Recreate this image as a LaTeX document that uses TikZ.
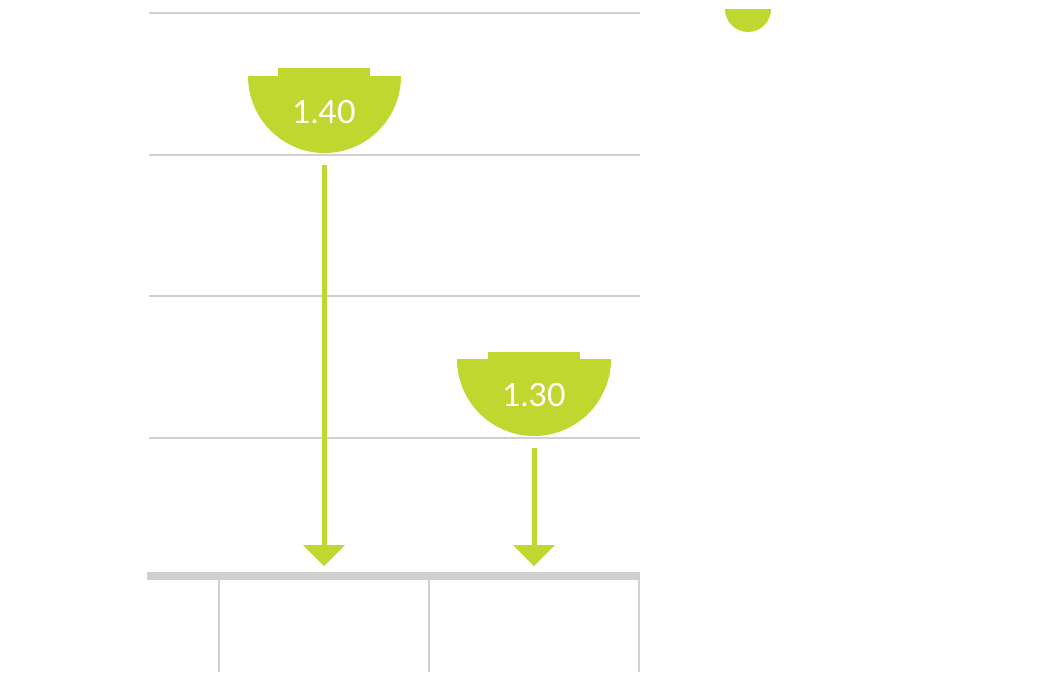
\documentclass[tikz,border=0pt]{standalone}
\usepackage{fontspec}
\setmainfont{Lato}
\definecolor{lime}{HTML}{C0D72F}
\definecolor{gridg}{HTML}{D0D0D0}
\begin{document}
\begin{tikzpicture}[x=1pt,y=-1pt,
  gline/.style={gridg,line width=2pt},
  bowl/.style={fill=lime,draw=none},
  shaft/.style={lime,line width=5pt},
  head/.style={fill=lime,draw=none},
  val/.style={text=white,font=\fontsize{32}{32}\selectfont,inner sep=0pt}]
\useasboundingbox (0,0) rectangle (1057,672);
\foreach \y in {13,155,296,438} \draw[gline] (149,\y) -- (640,\y);
\draw[gridg,line width=8pt] (147,576) -- (640,576);
\foreach \x in {219,429,639} \draw[gline] (\x,580) -- (\x,672);
% bowl 1
\fill[bowl] (248,76) arc[start angle=180,end angle=360,x radius=76.5,y radius=-77] -- cycle;
\fill[bowl] (278,68) rectangle (370,77);
\node[val] (v1) at (324,112) {1.40};
% bowl 2
\fill[bowl] (457,359) arc[start angle=180,end angle=360,x radius=77,y radius=-77] -- cycle;
\fill[bowl] (488,352) rectangle (580,360);
\node[val] (v2) at (534,395) {1.30};
% small bowl
\fill[bowl] (725,9) arc[start angle=180,end angle=360,x radius=23,y radius=-23] -- cycle;
% arrows
\coordinate (a1s) at (324,165); \coordinate (a1e) at (324,546);
\draw[shaft] (a1s) -- (a1e);
\fill[head] (303,545) -- (345,545) -- (324,566) -- cycle;
\coordinate (a2s) at (534,448); \coordinate (a2e) at (534,546);
\draw[shaft] (a2s) -- (a2e);
\fill[head] (513,545) -- (555,545) -- (534,566) -- cycle;
\end{tikzpicture}
\end{document}
